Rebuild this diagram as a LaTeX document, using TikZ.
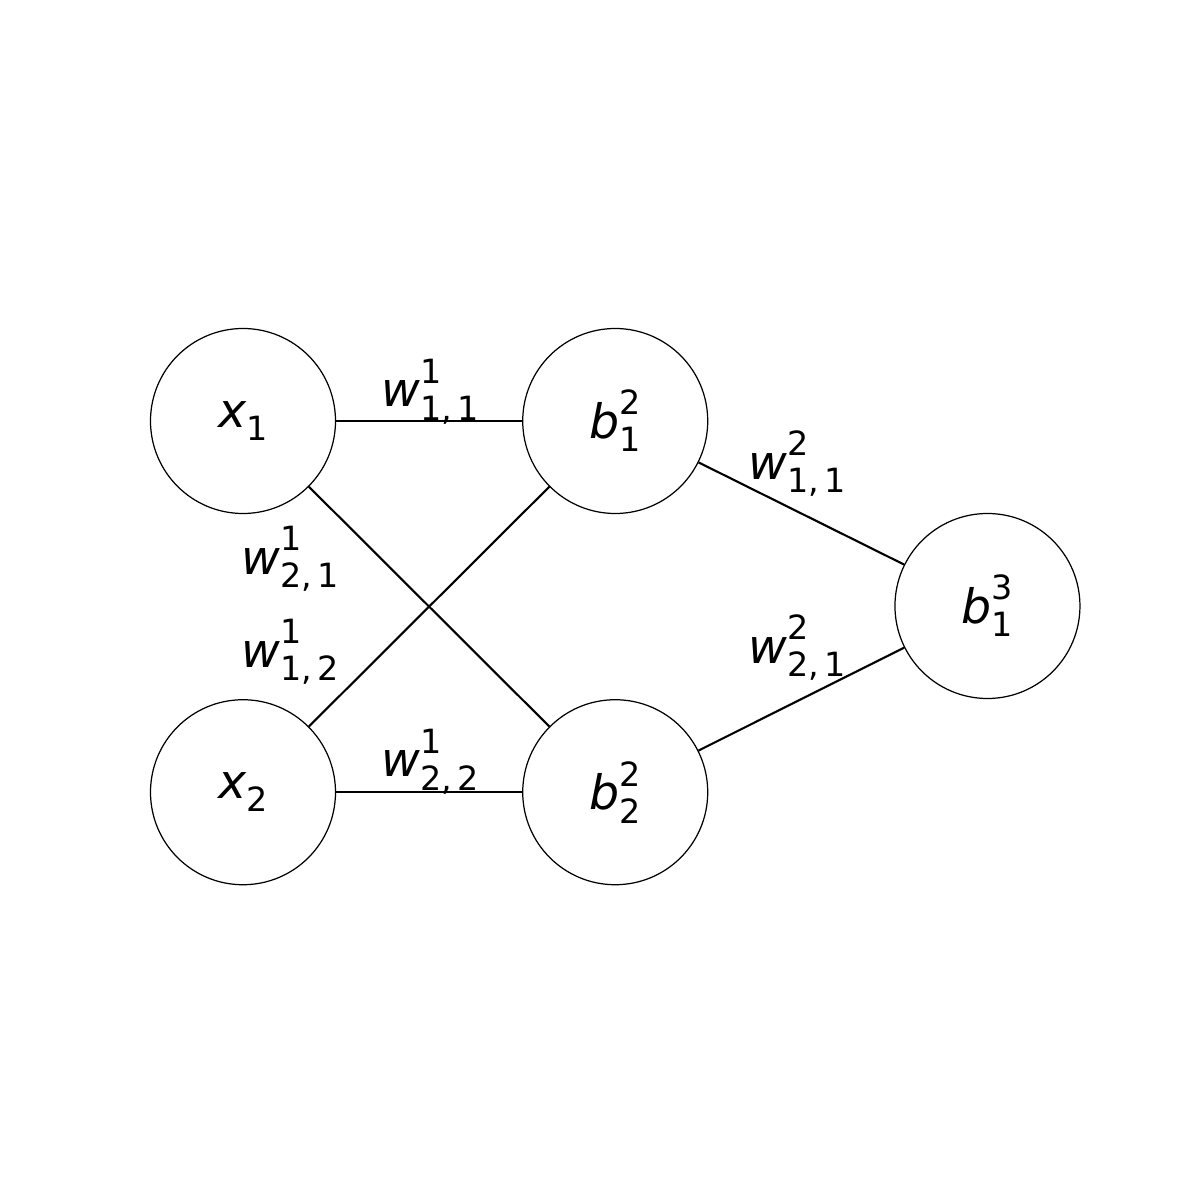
\documentclass[tikz,border=0pt]{standalone}
\usepackage{fontspec}
\setmainfont{DejaVu Sans}
\usetikzlibrary{positioning}
\newcommand{\symb}[3]{\textit{#1}\rlap{\raisebox{0.5em}{\fontsize{9.5}{9.5}\selectfont #2}}\raisebox{-0.28em}{\fontsize{9.5}{9.5}\selectfont #3}}

\begin{document}
\begin{tikzpicture}[node distance=1.86cm, font=\fontsize{13.5}{15}\selectfont]
    \tikzset{neuron/.style={draw, circle, line width=0.35pt, minimum size=1.85cm, inner sep=0pt},
             weight/.style={inner sep=0pt},
             link/.style={line width=0.6pt}}
    \useasboundingbox (0,0) rectangle (12,12);

    \node[neuron] at (2.43,7.79) (x1) {\symb{x}{}{1}};
    \node[neuron, below=1.85cm of x1] (x2) {\symb{x}{}{2}};
    \node[neuron, right=of x1] (b12) {\symb{b}{2}{1}};
    \node[neuron, right=of x2] (b22) {\symb{b}{2}{2}};
    \node[neuron, right=of b12, yshift=-1.85cm] (b13) {\symb{b}{3}{1}};

    \draw[link] (x1) -- (b12);
    \draw[link] (x1) -- (b22);
    \draw[link] (x2) -- (b12);
    \draw[link] (x2) -- (b22);
    \draw[link] (b12) -- (b13);
    \draw[link] (b22) -- (b13);

    \node[weight] at (4.30,8.085) (w111) {\symb{w}{1}{1,\,1}};
    \node[weight] at (2.90,6.41) (w121) {\symb{w}{1}{2,\,1}};
    \node[weight] at (2.90,5.48) (w112) {\symb{w}{1}{1,\,2}};
    \node[weight] at (4.30,4.385) (w122) {\symb{w}{1}{2,\,2}};
    \node[weight] at (7.97,7.36) (w211) {\symb{w}{2}{1,\,1}};
    \node[weight] at (7.97,5.52) (w221) {\symb{w}{2}{2,\,1}};
  \end{tikzpicture}
\end{document}
